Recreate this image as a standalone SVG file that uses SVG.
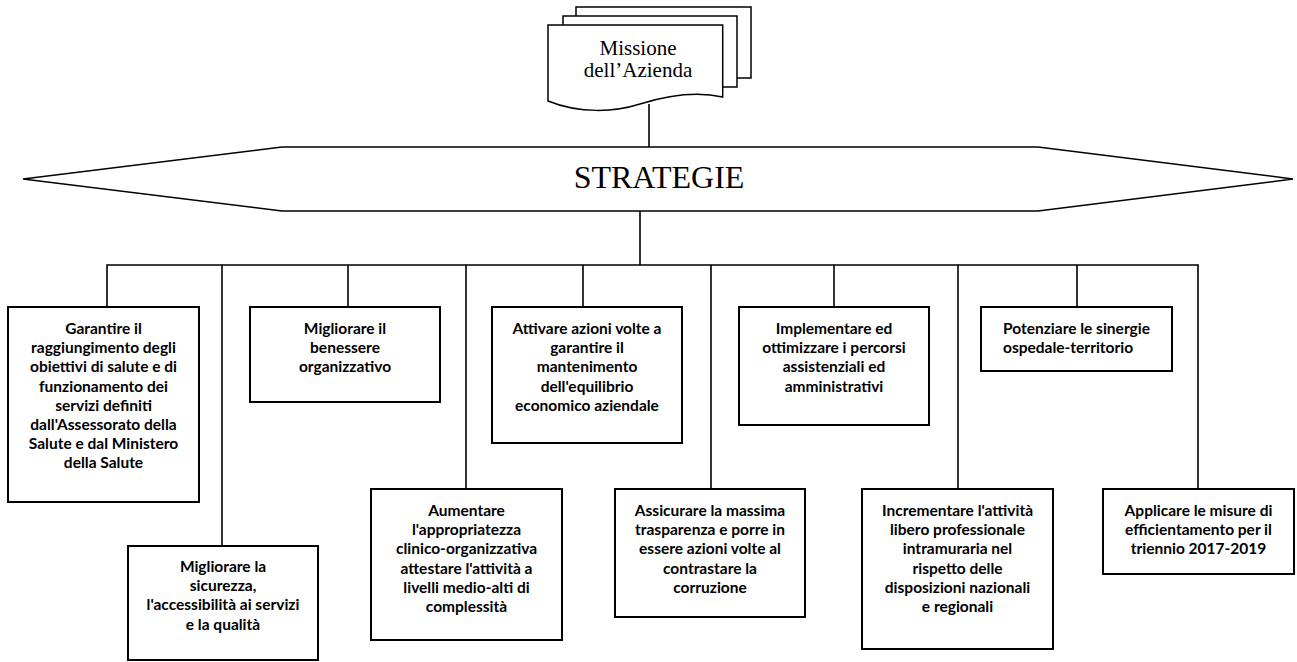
<svg xmlns="http://www.w3.org/2000/svg" width="1297" height="662" viewBox="0 0 1297 662">
<style>
.bg{fill:#fff}
.box{fill:#fff;stroke:#000;stroke-width:2}
.doc{fill:#fff;stroke:#000;stroke-width:1.5}
.ln{fill:none;stroke:#000;stroke-width:1.6}
.t{font-family:Lato,"Liberation Sans",sans-serif;font-weight:bold;font-size:15.5px;fill:#000;text-anchor:middle}
.tl{text-anchor:start}
.serif{font-family:"Liberation Serif","Times New Roman",serif;fill:#000;text-anchor:middle}
</style>
<rect class="bg" x="0" y="0" width="1297" height="662"/>

<g id="connectors">
  <line class="ln" x1="649" y1="104" x2="649" y2="147"/>
  <line class="ln" x1="640" y1="211" x2="640" y2="265"/>
  <polyline class="ln" points="107,307 107,265 1198,265 1198,489"/>
  <line class="ln" x1="222" y1="265" x2="222" y2="546"/>
  <line class="ln" x1="348" y1="265" x2="348" y2="307"/>
  <line class="ln" x1="466" y1="265" x2="466" y2="489"/>
  <line class="ln" x1="583" y1="265" x2="583" y2="307"/>
  <line class="ln" x1="711" y1="265" x2="711" y2="489"/>
  <line class="ln" x1="834" y1="265" x2="834" y2="307"/>
  <line class="ln" x1="958" y1="265" x2="958" y2="489"/>
  <line class="ln" x1="1077" y1="265" x2="1077" y2="307"/>
</g>

<g id="missione">
  <rect class="doc" x="576" y="7" width="175" height="71"/>
  <rect class="doc" x="563" y="16" width="174" height="71"/>
  <path class="doc" d="M548,25 H722.7 V97 C700,92 672,94 640,104 C615,112 580,114 548,101 Z"/>
  <text class="serif" x="638" y="55" font-size="21">Missione</text>
  <text class="serif" x="638" y="77" font-size="21">dell’Azienda</text>
</g>

<g id="strategie">
  <polygon class="doc" points="23,179 282,147 1038,147 1293,179 1038,211 282,211"/>
  <text class="serif" x="659" y="188" font-size="32">STRATEGIE</text>
</g>

<g id="n1">
  <rect class="box" x="8" y="307" width="191" height="195"/>
  <text class="t" x="103.5" y="334">Garantire il</text>
  <text class="t" x="103.5" y="353.2">raggiungimento degli</text>
  <text class="t" x="103.5" y="372.4">obiettivi di salute e di</text>
  <text class="t" x="103.5" y="391.6">funzionamento dei</text>
  <text class="t" x="103.5" y="410.8">servizi definiti</text>
  <text class="t" x="103.5" y="430">dall'Assessorato della</text>
  <text class="t" x="103.5" y="449.2">Salute e dal Ministero</text>
  <text class="t" x="103.5" y="468.4">della Salute</text>
</g>

<g id="n2">
  <rect class="box" x="128" y="546" width="190" height="114"/>
  <text class="t" x="223" y="572">Migliorare la</text>
  <text class="t" x="223" y="591.2">sicurezza,</text>
  <text class="t" x="223" y="610.4">l'accessibilità ai servizi</text>
  <text class="t" x="223" y="629.6">e la qualità</text>
</g>

<g id="n3">
  <rect class="box" x="250" y="307" width="190" height="95"/>
  <text class="t" x="345" y="334">Migliorare il</text>
  <text class="t" x="345" y="353.2">benessere</text>
  <text class="t" x="345" y="372.4">organizzativo</text>
</g>

<g id="n4">
  <rect class="box" x="371" y="489" width="191" height="151"/>
  <text class="t" x="466.5" y="516">Aumentare</text>
  <text class="t" x="466.5" y="535.2">l'appropriatezza</text>
  <text class="t" x="466.5" y="554.4">clinico-organizzativa</text>
  <text class="t" x="466.5" y="573.6">attestare l'attività a</text>
  <text class="t" x="466.5" y="592.8">livelli medio-alti di</text>
  <text class="t" x="466.5" y="612">complessità</text>
</g>

<g id="n5">
  <rect class="box" x="492" y="307" width="190" height="136"/>
  <text class="t" x="587" y="334">Attivare azioni volte a</text>
  <text class="t" x="587" y="353.2">garantire il</text>
  <text class="t" x="587" y="372.4">mantenimento</text>
  <text class="t" x="587" y="391.6">dell'equilibrio</text>
  <text class="t" x="587" y="410.8">economico aziendale</text>
</g>

<g id="n6">
  <rect class="box" x="615" y="489" width="190" height="128"/>
  <text class="t" x="710" y="516">Assicurare la massima</text>
  <text class="t" x="710" y="535.2">trasparenza e porre in</text>
  <text class="t" x="710" y="554.4">essere azioni volte al</text>
  <text class="t" x="710" y="573.6">contrastare la</text>
  <text class="t" x="710" y="592.8">corruzione</text>
</g>

<g id="n7">
  <rect class="box" x="739" y="307" width="190" height="118"/>
  <text class="t" x="834" y="334">Implementare ed</text>
  <text class="t" x="834" y="353.2">ottimizzare i percorsi</text>
  <text class="t" x="834" y="372.4">assistenziali ed</text>
  <text class="t" x="834" y="391.6">amministrativi</text>
</g>

<g id="n8">
  <rect class="box" x="862" y="489" width="191" height="160"/>
  <text class="t" x="957.5" y="516">Incrementare l'attività</text>
  <text class="t" x="957.5" y="535.2">libero professionale</text>
  <text class="t" x="957.5" y="554.4">intramuraria nel</text>
  <text class="t" x="957.5" y="573.6">rispetto delle</text>
  <text class="t" x="957.5" y="592.8">disposizioni nazionali</text>
  <text class="t" x="957.5" y="612">e regionali</text>
</g>

<g id="n9">
  <rect class="box" x="981" y="307" width="191" height="64"/>
  <text class="t tl" x="1003" y="334">Potenziare le sinergie</text>
  <text class="t tl" x="1003" y="353.2">ospedale-territorio</text>
</g>

<g id="n10">
  <rect class="box" x="1103" y="489" width="191" height="85"/>
  <text class="t" x="1198.5" y="516">Applicare le misure di</text>
  <text class="t" x="1198.5" y="535.2">efficientamento per il</text>
  <text class="t" x="1198.5" y="554.4">triennio 2017-2019</text>
</g>
</svg>
